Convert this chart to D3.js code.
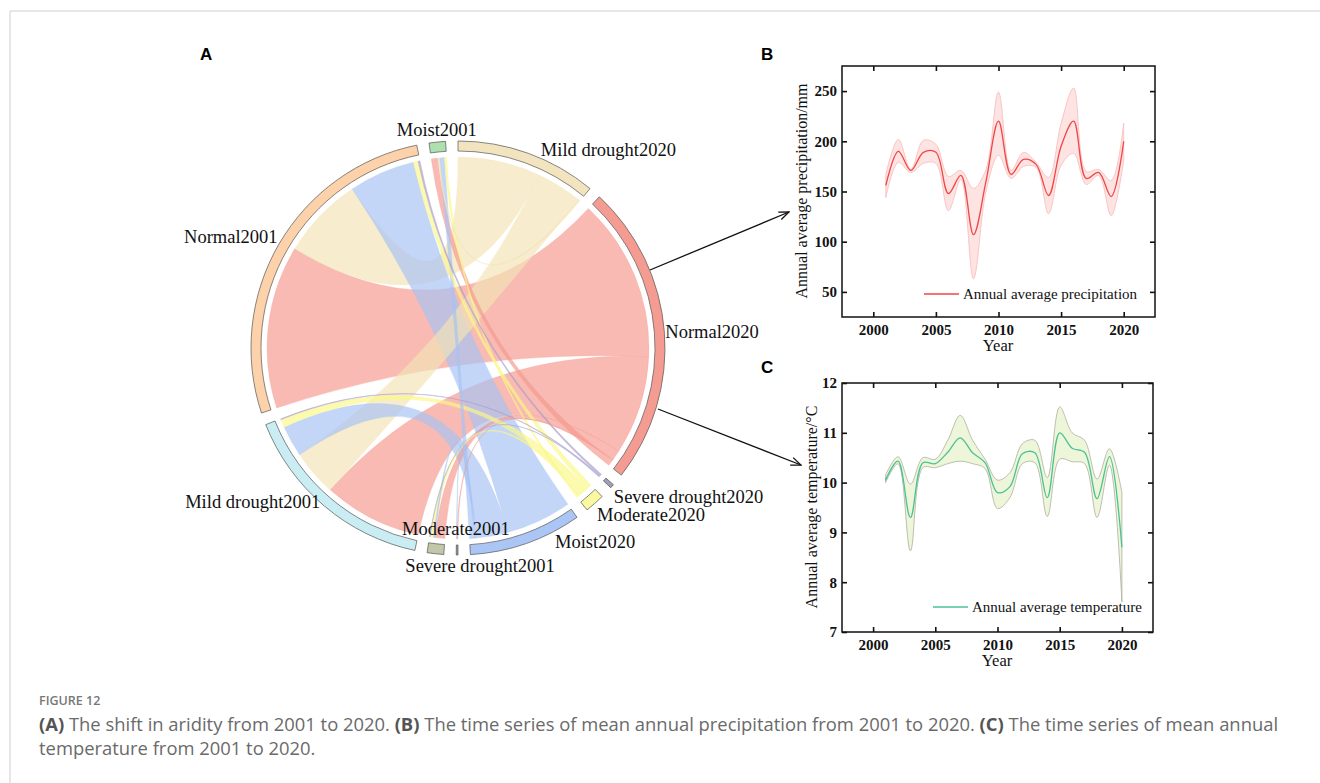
<!DOCTYPE html>
<html>
<head>
<meta charset="utf-8">
<script src="https://cdn.jsdelivr.net/npm/d3@7"></script>
<style>
  body { margin: 0; background: #fff; }
  svg { display: block; }
</style>
</head>
<body>
<svg id="fig" width="1320" height="783"></svg>
<script>
// ---------- panel A : change of aridity class, 2001 -> 2020 (share of area, %)
var classes2001 = ["Moist2001", "Normal2001", "Mild drought2001", "Moderate2001", "Severe drought2001"];
var classes2020 = ["Moist2020", "Normal2020", "Mild drought2020", "Moderate2020", "Severe drought2020"];
// rows = class in 2001, columns = class in 2020 (same order as classes2020)
var transfer = [
  [0.9, 1.2, 0.3, 0.43, 0],
  [12.3, 30.4, 15.4, 0.9, 0.37],
  [5.8, 18.4, 8.6, 1.5, 0.18],
  [0.3, 1.84, 0, 0.6, 0.12],
  [0.12, 0.18, 0, 0, 0]
];
// sectors clockwise from 12 o'clock
var ringOrder = ["Mild drought2020", "Normal2020", "Severe drought2020", "Moderate2020", "Moist2020",
                 "Severe drought2001", "Moderate2001", "Mild drought2001", "Normal2001", "Moist2001"];
var linkOrder2001 = ["Normal2020", "Mild drought2020", "Moist2020", "Moderate2020", "Severe drought2020"];
var linkOrder2020 = ["Normal2001", "Mild drought2001", "Moderate2001", "Severe drought2001", "Moist2001"];

// ---------- panels B and C
var years = [2001, 2002, 2003, 2004, 2005, 2006, 2007, 2008, 2009, 2010,
             2011, 2012, 2013, 2014, 2015, 2016, 2017, 2018, 2019, 2020];
var precipMean  = [156, 190, 171, 189, 189, 148, 166, 107, 160, 220, 167, 182, 177, 146, 195, 220, 163, 169, 145, 200];
var precipUpper = [167, 202, 172, 201, 197, 165, 171, 153, 172, 249, 171, 189, 179, 164, 218, 253, 170, 172, 161, 218];
var precipLower = [144, 179, 169, 178, 178, 131, 162, 63, 150, 186, 163, 175, 174, 128, 176, 188, 157, 166, 126, 181];
var tempMean  = [10.05, 10.43, 9.3, 10.4, 10.38, 10.61, 10.9, 10.6, 10.4, 9.8, 9.92, 10.58, 10.6, 9.7, 11.0, 10.69, 10.61, 9.68, 10.52, 8.7];
var tempUpper = [10.15, 10.52, 9.97, 10.5, 10.47, 10.85, 11.35, 10.85, 10.47, 10.05, 10.2, 10.78, 10.85, 10.1, 11.52, 11.0, 10.85, 10.07, 10.68, 9.8];
var tempLower = [10.0, 10.38, 8.63, 10.3, 10.3, 10.38, 10.43, 10.38, 10.28, 9.48, 9.7, 10.38, 10.4, 9.32, 10.47, 10.42, 10.38, 9.3, 10.35, 7.6];
var yearTicks = [2000, 2005, 2010, 2015, 2020];
var precipTicks = [50, 100, 150, 200, 250];
var tempTicks = [7, 8, 9, 10, 11, 12];

var serif = "'Liberation Serif', 'Times New Roman', serif";
var sans = "'Liberation Sans', Arial, sans-serif";
var svg = d3.select("#fig");

// page frame lines
svg.append("line").attr("x1", 10).attr("y1", 11).attr("x2", 1320).attr("y2", 11).attr("stroke", "#cfcfcf");
svg.append("line").attr("x1", 10).attr("y1", 11).attr("x2", 10).attr("y2", 783).attr("stroke", "#cfcfcf");

// panel letters
[["A", 200, 60], ["B", 761, 60], ["C", 761, 373]].forEach(function(p) {
  svg.append("text").attr("x", p[1]).attr("y", p[2]).text(p[0])
    .attr("font-family", sans).attr("font-weight", "bold").attr("font-size", 17);
});

// ================= chord diagram =================
var cx = 458, cy = 348;
var rLink = 191, rIn = 197, rOut = 207;
var padAngle = 3.44 * Math.PI / 180;

var sectorColor = {
  "Moist2001": "#ade0ae", "Normal2001": "#fdd2aa", "Mild drought2001": "#c9edf3",
  "Moderate2001": "#c3c7a9", "Severe drought2001": "#9a9a9a",
  "Mild drought2020": "#f3e4c0", "Normal2020": "#f49c92", "Severe drought2020": "#9f9fb5",
  "Moderate2020": "#fbf8a2", "Moist2020": "#abc6f4"
};
var linkColor = {
  "Normal2020": "#f49a8e", "Mild drought2020": "#f3e3b6", "Moist2020": "#a6c3f5",
  "Moderate2020": "#fbf887", "Severe drought2020": "#a79ccc"
};
// label placement: nudge from the radial point at r=212 (dx, dy, anchor)
var labelNudge = {
  "Mild drought2020": [11, 7, "start"], "Normal2020": [-4, 7, "start"],
  "Severe drought2020": [-2, 13, "start"], "Moderate2020": [-1, 14, "start"],
  "Moist2020": [27, 0, "start"], "Severe drought2001": [23, 12, "middle"],
  "Moderate2001": [21, -24, "middle"], "Mild drought2001": [-1, -2, "end"],
  "Normal2001": [3, 1, "end"], "Moist2001": [0, -1, "middle"]
};

var sectorTotal = {};
classes2001.forEach(function(c, i) { sectorTotal[c] = d3.sum(transfer[i]); });
classes2020.forEach(function(c, j) { sectorTotal[c] = d3.sum(transfer, function(row) { return row[j]; }); });
var grand = d3.sum(ringOrder, function(c) { return sectorTotal[c]; });
var angle = d3.scaleLinear().domain([0, grand]).range([0, 2 * Math.PI - padAngle * ringOrder.length]);

var sectors = {};
var acc = 0;
ringOrder.forEach(function(c, k) {
  var a0 = angle(acc) + k * padAngle;
  acc += sectorTotal[c];
  var a1 = angle(acc) + k * padAngle;
  sectors[c] = { name: c, startAngle: a0, endAngle: a1, cursor: a0 };
});

var links = [];
var linkMap = {};
classes2001.forEach(function(src, i) {
  linkOrder2001.forEach(function(tgt) {
    var v = transfer[i][classes2020.indexOf(tgt)];
    if (!v) return;
    var s = sectors[src];
    var a0 = s.cursor;
    s.cursor = a0 + angle(v);
    var l = { src: src, tgt: tgt, value: v, source: { startAngle: a0, endAngle: s.cursor, radius: rLink } };
    links.push(l);
    linkMap[src + "|" + tgt] = l;
  });
});
classes2020.forEach(function(tgt) {
  linkOrder2020.forEach(function(src) {
    var l = linkMap[src + "|" + tgt];
    if (!l) return;
    var s = sectors[tgt];
    var a0 = s.cursor;
    s.cursor = a0 + angle(l.value);
    l.target = { startAngle: a0, endAngle: s.cursor, radius: rLink };
  });
});

var chordG = svg.append("g").attr("transform", "translate(" + cx + "," + cy + ")");
var ribbon = d3.ribbon();
chordG.append("g").selectAll("path")
  .data(links.slice().sort(function(a, b) { return b.value - a.value; }))
  .enter().append("path")
  .attr("d", ribbon)
  .attr("fill", function(d) { return linkColor[d.tgt]; })
  .attr("fill-opacity", 0.68)
  .attr("stroke", function(d) { return linkColor[d.tgt]; })
  .attr("stroke-opacity", 0.5)
  .attr("stroke-width", 0.5);

var arc = d3.arc().innerRadius(rIn).outerRadius(rOut);
var sectorList = ringOrder.map(function(c) { return sectors[c]; });
chordG.append("g").selectAll("path")
  .data(sectorList)
  .enter().append("path")
  .attr("d", arc)
  .attr("fill", function(d) { return sectorColor[d.name]; })
  .attr("stroke", "#555")
  .attr("stroke-width", 0.7);

chordG.append("g").selectAll("text")
  .data(sectorList)
  .enter().append("text")
  .attr("x", function(d) { var m = (d.startAngle + d.endAngle) / 2; return 212 * Math.sin(m) + labelNudge[d.name][0]; })
  .attr("y", function(d) { var m = (d.startAngle + d.endAngle) / 2; return -212 * Math.cos(m) + labelNudge[d.name][1]; })
  .attr("text-anchor", function(d) { return labelNudge[d.name][2]; })
  .attr("font-family", serif)
  .attr("font-size", 18.5)
  .attr("fill", "#111")
  .text(function(d) { return d.name; });

// arrows from Normal2020 to panels B and C
var defs = svg.append("defs");
defs.append("marker").attr("id", "arrowHead")
  .attr("viewBox", "0 0 12 10").attr("refX", 11).attr("refY", 5)
  .attr("markerWidth", 12).attr("markerHeight", 10).attr("markerUnits", "userSpaceOnUse")
  .attr("orient", "auto")
  .append("path").attr("d", "M1,1 L11,5 L1,9").attr("fill", "none").attr("stroke", "#111").attr("stroke-width", 1.3);
[[650, 270, 789, 212], [658, 409, 801, 465]].forEach(function(a) {
  svg.append("line").attr("x1", a[0]).attr("y1", a[1]).attr("x2", a[2]).attr("y2", a[3])
    .attr("stroke", "#111").attr("stroke-width", 1.3).attr("marker-end", "url(#arrowHead)");
});

// ================= time series panels =================
function drawPanel(opt) {
  var x = d3.scaleLinear().domain([1997.5, 2022.5]).range([opt.left, opt.right]);
  var y = d3.scaleLinear().domain(opt.yDomain).range([opt.bottom, opt.top]);
  var rows = years.map(function(yr, i) {
    return { year: yr, mean: opt.mean[i], hi: opt.upper[i], lo: opt.lower[i] };
  });
  var curve = d3.curveCatmullRom.alpha(0.5);
  var g = svg.append("g");

  g.append("path").datum(rows)
    .attr("d", d3.area().curve(curve)
      .x(function(d) { return x(d.year); })
      .y0(function(d) { return y(d.lo); })
      .y1(function(d) { return y(d.hi); }))
    .attr("fill", opt.bandFill).attr("stroke", opt.bandStroke).attr("stroke-width", 0.8);
  g.append("path").datum(rows)
    .attr("d", d3.line().curve(curve)
      .x(function(d) { return x(d.year); })
      .y(function(d) { return y(d.mean); }))
    .attr("fill", "none").attr("stroke", opt.lineColor).attr("stroke-width", 1.3);

  var axes = [
    [d3.axisBottom(x).tickValues(yearTicks).tickFormat(d3.format("d")).tickPadding(7), 0, opt.bottom],
    [d3.axisTop(x).tickValues(yearTicks).tickFormat(""), 0, opt.top],
    [d3.axisLeft(y).tickValues(opt.yTicks).tickFormat(d3.format("d")).tickPadding(5), opt.left, 0],
    [d3.axisRight(y).tickValues(opt.yTicks).tickFormat(""), opt.right, 0]
  ];
  axes.forEach(function(a) {
    var ax = g.append("g").attr("transform", "translate(" + a[1] + "," + a[2] + ")")
      .call(a[0].tickSizeInner(-5).tickSizeOuter(0));
    ax.select(".domain").remove();
    ax.selectAll("line").attr("stroke", "#111").attr("stroke-width", 1.6);
    ax.selectAll("text").attr("font-family", serif).attr("font-size", 15)
      .attr("font-weight", "bold").attr("fill", "#111");
  });

  g.append("rect").attr("x", opt.left).attr("y", opt.top)
    .attr("width", opt.right - opt.left).attr("height", opt.bottom - opt.top)
    .attr("fill", "none").attr("stroke", "#111").attr("stroke-width", 1.5);

  g.append("text").attr("x", (opt.left + opt.right) / 2 - 0.5).attr("y", opt.bottom + 34)
    .attr("text-anchor", "middle").attr("font-family", serif).attr("font-size", 16.5).attr("fill", "#111")
    .text("Year");
  g.append("text")
    .attr("transform", "translate(" + opt.labelX + "," + opt.labelY + ") rotate(-90)")
    .attr("text-anchor", "middle").attr("font-family", serif).attr("font-size", 16).attr("fill", "#111")
    .text(opt.yLabel);

  g.append("line").attr("x1", opt.legendX).attr("x2", opt.legendX + 35)
    .attr("y1", opt.legendY).attr("y2", opt.legendY)
    .attr("stroke", opt.lineColor).attr("stroke-width", 1.3);
  g.append("text").attr("x", opt.legendX + 39).attr("y", opt.legendY + 5)
    .attr("font-family", serif).attr("font-size", 15).attr("fill", "#111")
    .text(opt.legendText);
}

drawPanel({
  left: 842, right: 1155, top: 66, bottom: 317,
  yDomain: [25, 275], yTicks: precipTicks,
  mean: precipMean, upper: precipUpper, lower: precipLower,
  bandFill: "#fde3e2", bandStroke: "#f7baba", lineColor: "#f04646",
  yLabel: "Annual average precipitation/mm", labelX: 807, labelY: 191,
  legendX: 924, legendY: 294, legendText: "Annual average precipitation"
});
drawPanel({
  left: 842, right: 1153, top: 383, bottom: 632,
  yDomain: [7, 12], yTicks: tempTicks,
  mean: tempMean, upper: tempUpper, lower: tempLower,
  bandFill: "#eef6d9", bandStroke: "#aeae9e", lineColor: "#4cc197",
  yLabel: "Annual average temperature/\u00b0C", labelX: 817, labelY: 507,
  legendX: 933, legendY: 607, legendText: "Annual average temperature"
});

// ================= caption =================
var cap = "'Open Sans', 'Noto Sans', sans-serif";
svg.append("text").attr("x", 39).attr("y", 705).attr("font-family", cap).attr("font-size", 12.5)
  .attr("font-weight", 600).attr("fill", "#777").text("FIGURE 12");
var line1 = svg.append("text").attr("x", 39).attr("y", 731).attr("font-family", cap)
  .attr("font-size", 18.4).attr("fill", "#6a6a6a");
[["(A)", true], [" The shift in aridity from 2001 to 2020. ", false], ["(B)", true],
 [" The time series of mean annual precipitation from 2001 to 2020. ", false], ["(C)", true],
 [" The time series of mean annual", false]].forEach(function(p) {
  line1.append("tspan").attr("font-weight", p[1] ? "bold" : "normal")
    .attr("fill", p[1] ? "#555" : "#6a6a6a").text(p[0]);
});
svg.append("text").attr("x", 39).attr("y", 755).attr("font-family", cap)
  .attr("font-size", 18.4).attr("fill", "#6a6a6a").text("temperature from 2001 to 2020.");
</script>
</body>
</html>
